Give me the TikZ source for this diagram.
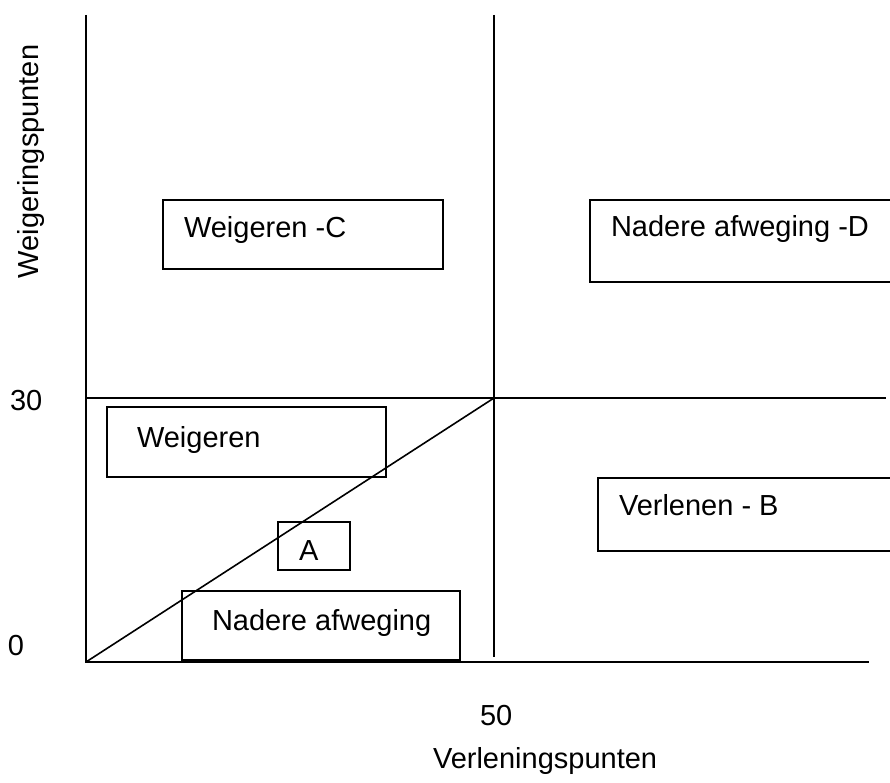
\documentclass[tikz,border=0pt]{standalone}
\usepackage{fontspec}
\setmainfont{Liberation Sans}
\begin{document}
\begin{tikzpicture}[x=1pt,y=-1pt,
  every node/.style={font=\fontsize{29}{34}\selectfont},
  box/.style={draw,line width=1.6pt,rectangle,inner sep=0pt,outer sep=0pt},
  txt/.style={inner sep=0pt,outer sep=0pt,anchor=base west},
  ln/.style={line width=1.6pt}]
\clip (0,0) rectangle (890,783);
\fill[white] (0,0) rectangle (890,783);
% axes and dividers
\coordinate (O) at (86,662);
\coordinate (Ytop) at (86,15);
\coordinate (Xend) at (869,662);
\coordinate (Mtop) at (494,15);
\coordinate (Mbot) at (494,657);
\coordinate (Hl) at (86,398);
\coordinate (Hr) at (886,398);
\coordinate (C) at (494,398);
\draw[ln] (Ytop) -- (O) -- (Xend);
\draw[ln] (Mtop) -- (Mbot);
\draw[ln] (Hl) -- (Hr);
\draw[ln] (O) -- (C);
% boxes
\node[box,minimum width=280,minimum height=69] (bc) at (303,234.5) {};
\node[box,minimum width=310,minimum height=82] (bd) at (745,241) {};
\node[box,minimum width=279,minimum height=70] (bw) at (246.5,442) {};
\node[box,minimum width=72,minimum height=48] (ba) at (314,546) {};
\node[box,minimum width=278,minimum height=69] (bn) at (321,625.5) {};
\node[box,minimum width=302,minimum height=73] (bb) at (749,514.5) {};
% box texts
\node[txt] (tc) at (184,238) {Weigeren -C};
\node[txt] (td) at (611,237) {Nadere afweging -D};
\node[txt] (tw) at (137,447) {Weigeren};
\node[txt] (ta) at (299,560) {A};
\node[txt] (tn) at (212,630) {Nadere afweging};
\node[txt] (tb) at (619,515) {Verlenen - B};
% axis labels
\node[txt] (l30) at (10,410) {30};
\node[txt] (l0) at (8,655) {0};
\node[txt] (l50) at (480,725) {50};
\node[txt] (lx) at (433,768) {Verleningspunten};
\node[txt,rotate=90] (ly) at (38,278) {Weigeringspunten};
\end{tikzpicture}
\end{document}
